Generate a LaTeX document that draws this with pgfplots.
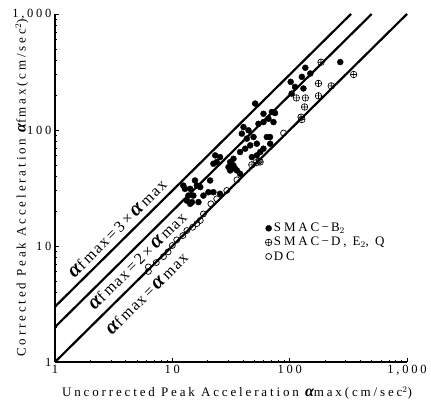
\documentclass[border=0pt]{standalone}
\usepackage{fontspec}
\setmainfont{Liberation Serif}
\newfontfamily\spc[LetterSpace=22]{Liberation Serif}
\newfontfamily\lbl[LetterSpace=8]{Liberation Serif}
\usepackage{pgfplots}
\pgfplotsset{compat=1.18}
\newcommand{\A}{{\fontsize{16bp}{16bp}\selectfont\itshape\bfseries α}}
\newcommand{\B}{{\fontsize{21bp}{21bp}\selectfont\itshape\bfseries α}}

\begin{document}
\begin{tikzpicture}
\begin{axis}[name=ax, scale only axis, width=352bp, height=348bp,
 xmode=log, ymode=log, xmin=1, xmax=1000, ymin=1, ymax=1000,
 axis x line*=bottom, axis y line*=left,
 axis line style={line width=1.1pt},
 tick align=inside, major tick length=4bp, minor tick length=2.5bp,
 tick style={line width=0.6pt, black},
 xtick={1,10,100,1000}, xticklabels={1,10,100,{1,000}},
 ytick={1,10,100,1000}, yticklabels={1,10,100,{1,000}},
 tick label style={font=\spc\fontsize{12.5bp}{14bp}\selectfont},
 xlabel={Uncorrected Peak Acceleration \A max(cm/sec$^2$)},
 ylabel={Corrected Peak Acceleration \A f\,max(cm/sec$^2$)},
 label style={font=\spc\fontsize{13bp}{15bp}\selectfont},
 xlabel style={at={(axis description cs:0.517,-0.089)}, anchor=center},
 ylabel style={at={(axis description cs:-0.094,0.5)}, anchor=center, rotate=0},
 legend style={at={(axis description cs:0.597,0.405)}, anchor=north west, draw=none, fill=none,
   font=\spc\fontsize{13bp}{15bp}\selectfont, row sep=0bp, inner sep=0pt},
 legend cell align=left,
 clip=false,
]
\addplot[forget plot, black, line width=2.2bp] coordinates {(1,3) (333.3,1000)};
\addplot[forget plot, black, line width=2.2bp] coordinates {(1,2) (500,1000)};
\addplot[forget plot, black, line width=2.2bp] coordinates {(1,1) (1000,1000)};

\addplot[only marks, mark=*, mark size=3bp, black] coordinates {
(270,385) (136,344) (150,307) (127,287) (102,260) (111,235) (131,228) (104,206)
(50.8,169) (59.8,138) (70.5,143) (66.0,125) (72.8,117) (59.8,117) (54.2,113)
(40.4,106) (44.6,99.3) (39.1,93.0) (43.1,84.2) (49.2,87.0) (46.1,73.7) (52.5,76.2)
(41.8,69.0) (56.1,64.6) (59.8,69.0) (63.9,87.0) (68.2,76.2) (52.5,60.4) (47.6,58.4)
(37.8,64.6) (33.2,56.5) (31.1,52.9) (34.3,46.3) (31.1,44.8) (23.2,60.4) (25.5,58.4)
(23.9,52.9) (22.4,51.2) (33.2,49.5) (30.1,47.9) (35.5,44.8) (37.8,41.9) (21.0,36.7)
(15.6,36.7) (16.2,33.2) (14.2,31.1) (12.8,31.1) (13.7,27.2) (15.1,27.2) (14.7,23.9)
(13.3,24.6) (20.3,29.1) (22.4,29.1) (25.5,28.2) (17.3,32.2) (18.4,27.2) (16.7,23.9)
(14.2,23.1) (12.4,33.2) (68,87) (75,140)
};
\addlegendentry{SMAC\,−\,B$_2$}
\addplot[only marks, mark=oplus, mark size=3.3bp, black, mark options={fill=white, line width=0.6pt}] coordinates {
(185,384) (351,301) (176,252) (226,240) (114,189) (136,189) (176,197) (134,158)
(125,129) (127,123) (47.6,50.1) (51.8,52.2) (56,53)
};
\addlegendentry{SMAC\,−\,D, E$_2$, Q}
\addplot[only marks, mark=o, mark size=3bp, black, mark options={fill=white, line width=0.7pt}] coordinates {
(6.25,6.04) (6.25,6.6) (7.3,7.2) (8.4,8.1) (9.2,8.9) (10,10.1) (10.9,11.3) (12.3,12.3)
(13.3,13.6) (14.9,14.5) (16.2,15.6) (17.3,16.6) (18.4,18.9) (21.3,23.1) (23.9,25.5)
(29.1,30.1) (35.5,37.2) (55,54) (88.7,94.2)
};
\addlegendentry{DC}

\node[rotate=44.7, inner sep=0pt, font=\lbl\fontsize{16bp}{18bp}\selectfont] at (axis cs:3.40,14.2) {\B f\,max\,=\,3\,×\,\B\,max};
\node[rotate=44.7, inner sep=0pt, font=\lbl\fontsize{16bp}{18bp}\selectfont] at (axis cs:5.05,7.45) {\B f\,max\,=\,2\,×\,\B\,max};
\node[rotate=44.7, inner sep=0pt, font=\lbl\fontsize{16bp}{18bp}\selectfont] at (axis cs:6.05,3.91) {\B f\,max\,=\,\B\,max};
\end{axis}
\path (ax.south west) ++(-55bp,-38bp) rectangle ++(431bp,400bp);
\end{tikzpicture}
\end{document}
